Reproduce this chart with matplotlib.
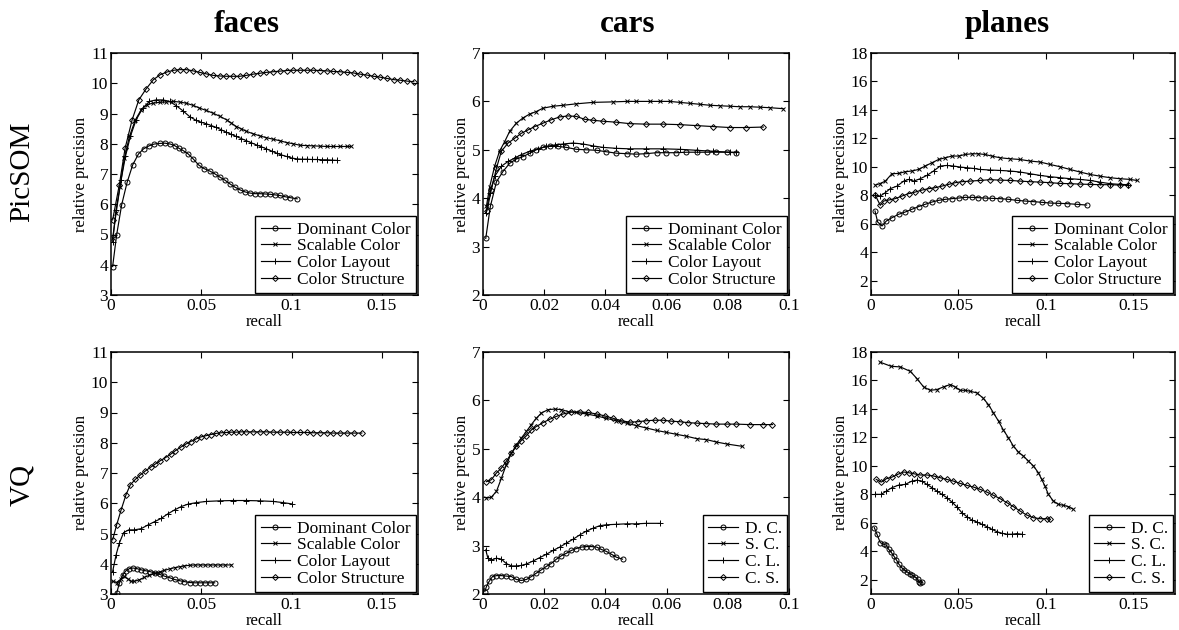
import matplotlib.pyplot as plt
from matplotlib.ticker import FuncFormatter

# ---- labels ----
col_titles = ["faces", "cars", "planes"]
row_titles = ["PicSOM", "VQ"]
long_labels = ["Dominant Color", "Scalable Color", "Color Layout", "Color Structure"]
short_labels = ["D. C.", "S. C.", "C. L.", "C. S."]

# ---- faces / PicSOM ----
fp_dc_x = [0.0009, 0.0031, 0.0059, 0.0089, 0.012, 0.0152, 0.018, 0.021, 0.0239, 0.0269, 0.0298, 0.0328,
           0.0352, 0.0376, 0.0398, 0.0426, 0.0455, 0.0485, 0.0515, 0.0546, 0.0574, 0.0602, 0.063, 0.0657,
           0.0685, 0.0713, 0.0741, 0.0769, 0.0797, 0.0824, 0.0852, 0.088, 0.0908, 0.0935, 0.0963, 0.0991, 0.1031]
fp_dc_y = [3.94, 4.98, 5.98, 6.72, 7.3, 7.66, 7.83, 7.93, 7.99, 8.01, 8.02, 7.99, 7.94, 7.85, 7.78, 7.67,
           7.5, 7.3, 7.18, 7.1, 7.01, 6.9, 6.8, 6.68, 6.57, 6.48, 6.41, 6.37, 6.35, 6.35, 6.34, 6.33, 6.31,
           6.29, 6.25, 6.22, 6.18]
fp_sc_x = [0.0009, 0.0028, 0.005, 0.0074, 0.0102, 0.0135, 0.0167, 0.0198, 0.0231, 0.0269, 0.0306, 0.0343,
           0.038, 0.0417, 0.0454, 0.049, 0.0528, 0.0565, 0.0602, 0.064, 0.0667, 0.0694, 0.0722, 0.075, 0.0787,
           0.0824, 0.0861, 0.0898, 0.0935, 0.0972, 0.1009, 0.1046, 0.1083, 0.112, 0.1157, 0.1194, 0.1231,
           0.1269, 0.1306, 0.133]
fp_sc_y = [4.87, 5.7, 6.58, 7.52, 8.24, 8.79, 9.12, 9.29, 9.34, 9.37, 9.38, 9.4, 9.38, 9.34, 9.27, 9.18,
           9.1, 9.01, 8.91, 8.79, 8.68, 8.57, 8.49, 8.41, 8.33, 8.26, 8.2, 8.15, 8.1, 8.04, 8.0, 7.95, 7.94,
           7.93, 7.92, 7.91, 7.91, 7.91, 7.91, 7.91]
fp_cl_x = [0.0009, 0.0028, 0.0056, 0.008, 0.0107, 0.0139, 0.0176, 0.0213, 0.025, 0.0287, 0.0324, 0.0361,
           0.0398, 0.0435, 0.0472, 0.05, 0.0528, 0.0556, 0.0583, 0.0611, 0.0639, 0.0667, 0.0694, 0.0722,
           0.075, 0.0778, 0.0806, 0.0833, 0.0861, 0.0889, 0.0917, 0.0944, 0.0972, 0.1, 0.1028, 0.1056,
           0.1083, 0.1111, 0.1139, 0.1167, 0.1194, 0.1222, 0.125]
fp_cl_y = [4.75, 5.81, 6.81, 7.58, 8.24, 8.79, 9.18, 9.4, 9.45, 9.45, 9.4, 9.26, 9.09, 8.9, 8.77, 8.71,
           8.66, 8.6, 8.54, 8.46, 8.38, 8.31, 8.24, 8.17, 8.1, 8.03, 7.96, 7.9, 7.83, 7.76, 7.69, 7.63, 7.58,
           7.53, 7.5, 7.49, 7.49, 7.48, 7.48, 7.47, 7.47, 7.46, 7.45]
fp_cs_x = [0.0009, 0.0046, 0.0078, 0.0117, 0.0154, 0.0194, 0.0235, 0.0272, 0.0309, 0.0348, 0.0383, 0.0417,
           0.0454, 0.0491, 0.0528, 0.0565, 0.0602, 0.0639, 0.0676, 0.0713, 0.075, 0.0787, 0.0824, 0.0861,
           0.0898, 0.0935, 0.0972, 0.1009, 0.1046, 0.1083, 0.112, 0.1157, 0.1194, 0.1231, 0.1269, 0.1306,
           0.1343, 0.138, 0.1417, 0.1454, 0.1491, 0.1528, 0.1565, 0.1602, 0.164, 0.1677]
fp_cs_y = [5.48, 6.64, 7.85, 8.79, 9.45, 9.81, 10.12, 10.28, 10.37, 10.43, 10.45, 10.45, 10.41, 10.36,
           10.31, 10.26, 10.24, 10.23, 10.23, 10.23, 10.26, 10.3, 10.33, 10.36, 10.38, 10.4, 10.42, 10.43,
           10.43, 10.43, 10.43, 10.42, 10.41, 10.39, 10.38, 10.36, 10.34, 10.3, 10.27, 10.23, 10.2, 10.16,
           10.12, 10.1, 10.07, 10.05]

# ---- cars / PicSOM ----
cp_dc_x = [0.0009, 0.0024, 0.0044, 0.0065, 0.0087, 0.0109, 0.0131, 0.0153, 0.0174, 0.0196, 0.0218, 0.0245,
           0.0272, 0.0305, 0.0338, 0.0371, 0.0403, 0.0436, 0.0469, 0.0501, 0.0534, 0.0567, 0.0599, 0.0632,
           0.0665, 0.0698, 0.0731, 0.0763, 0.0796, 0.0828]
cp_dc_y = [3.17, 3.83, 4.34, 4.55, 4.72, 4.81, 4.86, 4.93, 5.0, 5.05, 5.07, 5.07, 5.05, 5.01, 5.0, 4.99,
           4.96, 4.93, 4.92, 4.91, 4.92, 4.94, 4.94, 4.94, 4.95, 4.95, 4.95, 4.95, 4.95, 4.94]
cp_sc_x = [0.0011, 0.0022, 0.0038, 0.0054, 0.0071, 0.0087, 0.0109, 0.0131, 0.0153, 0.0174, 0.0196, 0.0229,
           0.0262, 0.0305, 0.036, 0.0425, 0.0469, 0.0501, 0.0545, 0.0578, 0.061, 0.0643, 0.0676, 0.0709,
           0.0741, 0.0774, 0.0807, 0.0839, 0.0872, 0.0905, 0.0937, 0.0981]
cp_sc_y = [3.83, 4.24, 4.66, 4.97, 5.17, 5.38, 5.55, 5.66, 5.74, 5.79, 5.86, 5.9, 5.92, 5.95, 5.98, 5.99,
           6.0, 6.0, 6.0, 6.0, 6.0, 5.98, 5.96, 5.94, 5.92, 5.91, 5.9, 5.89, 5.89, 5.88, 5.87, 5.85]
cp_cl_x = [0.0009, 0.0022, 0.0038, 0.006, 0.0082, 0.0104, 0.0125, 0.0153, 0.018, 0.0207, 0.0234, 0.0262,
           0.0294, 0.0327, 0.036, 0.0392, 0.0436, 0.048, 0.0534, 0.0589, 0.0643, 0.0698, 0.0752, 0.0807, 0.0828]
cp_cl_y = [3.69, 4.1, 4.45, 4.66, 4.76, 4.83, 4.9, 4.97, 5.02, 5.07, 5.1, 5.12, 5.14, 5.12, 5.08, 5.05,
           5.03, 5.02, 5.02, 5.02, 5.01, 4.99, 4.97, 4.95, 4.95]
cp_cs_x = [0.0013, 0.0027, 0.0044, 0.006, 0.0082, 0.0104, 0.0125, 0.0147, 0.0169, 0.0196, 0.0223, 0.0251,
           0.0278, 0.0305, 0.0332, 0.036, 0.0392, 0.0436, 0.048, 0.0534, 0.0589, 0.0643, 0.0698, 0.0752,
           0.0807, 0.0861, 0.0916]
cp_cs_y = [3.74, 4.17, 4.62, 4.97, 5.14, 5.24, 5.34, 5.41, 5.48, 5.55, 5.62, 5.68, 5.7, 5.69, 5.63, 5.61,
           5.59, 5.57, 5.54, 5.53, 5.53, 5.52, 5.5, 5.48, 5.46, 5.46, 5.47]

# ---- planes / PicSOM ----
pp_dc_x = [0.0023, 0.0038, 0.0063, 0.0088, 0.012, 0.0158, 0.0196, 0.0234, 0.0272, 0.031, 0.0349, 0.0387,
           0.0425, 0.0463, 0.0501, 0.0539, 0.0577, 0.0615, 0.0653, 0.0691, 0.0739, 0.0787, 0.0834, 0.0882,
           0.093, 0.0977, 0.1025, 0.1072, 0.112, 0.1177, 0.1234]
pp_dc_y = [6.9, 6.13, 5.85, 6.2, 6.43, 6.67, 6.83, 7.02, 7.21, 7.37, 7.53, 7.65, 7.72, 7.77, 7.81, 7.86,
           7.86, 7.84, 7.81, 7.79, 7.77, 7.72, 7.65, 7.6, 7.56, 7.51, 7.46, 7.44, 7.42, 7.37, 7.32]
pp_sc_x = [0.0025, 0.005, 0.0082, 0.012, 0.0158, 0.0196, 0.0234, 0.0272, 0.031, 0.0349, 0.0387, 0.0425,
           0.0463, 0.0501, 0.0539, 0.0577, 0.0615, 0.0653, 0.0691, 0.0739, 0.0796, 0.0853, 0.091, 0.0968,
           0.1025, 0.1082, 0.1139, 0.1196, 0.1253, 0.131, 0.1368, 0.1425, 0.1482, 0.152]
pp_sc_y = [8.72, 8.82, 9.0, 9.52, 9.54, 9.66, 9.71, 9.82, 10.06, 10.29, 10.52, 10.64, 10.76, 10.76, 10.87,
           10.92, 10.92, 10.87, 10.76, 10.64, 10.57, 10.52, 10.41, 10.34, 10.17, 10.01, 9.82, 9.64, 9.47,
           9.35, 9.24, 9.17, 9.12, 9.05]
pp_cl_x = [0.0025, 0.0053, 0.0082, 0.011, 0.0149, 0.0187, 0.0215, 0.0244, 0.0282, 0.032, 0.0358, 0.0396,
           0.0434, 0.0472, 0.051, 0.0549, 0.0587, 0.0625, 0.0682, 0.0739, 0.0796, 0.0853, 0.091, 0.0968,
           0.1025, 0.1082, 0.1139, 0.1196, 0.1253, 0.131, 0.1368, 0.1425, 0.1472]
pp_cl_y = [8.0, 7.95, 8.19, 8.47, 8.65, 9.0, 9.12, 9.0, 9.17, 9.4, 9.71, 10.06, 10.1, 10.06, 9.99, 9.94,
           9.89, 9.82, 9.78, 9.75, 9.71, 9.64, 9.52, 9.4, 9.31, 9.24, 9.17, 9.12, 9.05, 8.93, 8.82, 8.77, 8.75]
pp_cs_x = [0.0025, 0.0053, 0.0072, 0.0101, 0.0139, 0.0177, 0.0215, 0.0253, 0.0291, 0.033, 0.0368, 0.0406,
           0.0444, 0.0482, 0.052, 0.0568, 0.0625, 0.0682, 0.0739, 0.0796, 0.0853, 0.091, 0.0968, 0.1025,
           0.1082, 0.1139, 0.1196, 0.1253, 0.131, 0.1368, 0.1425, 0.1472]
pp_cs_y = [8.0, 7.3, 7.6, 7.67, 7.77, 7.95, 8.12, 8.23, 8.37, 8.47, 8.54, 8.65, 8.77, 8.89, 8.96, 9.0,
           9.05, 9.1, 9.07, 9.05, 9.0, 8.96, 8.93, 8.89, 8.84, 8.82, 8.79, 8.77, 8.75, 8.75, 8.72, 8.72]

# ---- faces / VQ ----
fv_dc_x = [0.0031, 0.0046, 0.0065, 0.0083, 0.0102, 0.012, 0.0143, 0.0167, 0.0191, 0.0217, 0.0243, 0.0269,
           0.0296, 0.0324, 0.0352, 0.038, 0.0407, 0.0435, 0.0463, 0.0491, 0.0519, 0.0546, 0.0574]
fv_dc_y = [3.02, 3.35, 3.63, 3.77, 3.84, 3.86, 3.84, 3.8, 3.77, 3.74, 3.69, 3.65, 3.59, 3.54, 3.48, 3.44,
           3.41, 3.38, 3.37, 3.37, 3.37, 3.37, 3.37]
fv_sc_x = [0.0009, 0.0031, 0.0056, 0.0074, 0.0093, 0.0111, 0.013, 0.0157, 0.0185, 0.0213, 0.0241, 0.0269,
           0.0296, 0.0324, 0.0352, 0.038, 0.0407, 0.0435, 0.0463, 0.0491, 0.0519, 0.0546, 0.0574, 0.0602,
           0.063, 0.0667]
fv_sc_y = [3.42, 3.38, 3.5, 3.58, 3.5, 3.42, 3.42, 3.47, 3.55, 3.62, 3.68, 3.73, 3.78, 3.83, 3.87, 3.9,
           3.93, 3.95, 3.96, 3.96, 3.96, 3.96, 3.96, 3.96, 3.96, 3.96]
fv_cl_x = [0.0009, 0.0028, 0.0046, 0.007, 0.0098, 0.013, 0.0167, 0.0204, 0.0241, 0.0278, 0.0315, 0.0352,
           0.0389, 0.0426, 0.0472, 0.0528, 0.0602, 0.0676, 0.075, 0.0824, 0.0898, 0.0954, 0.1]
fv_cl_y = [3.74, 4.29, 4.68, 5.03, 5.12, 5.12, 5.16, 5.28, 5.39, 5.5, 5.65, 5.78, 5.89, 5.97, 6.02, 6.06,
           6.08, 6.09, 6.09, 6.08, 6.06, 6.02, 5.98]
fv_cs_x = [0.0009, 0.0031, 0.0056, 0.0083, 0.0107, 0.0135, 0.0163, 0.0191, 0.0219, 0.0246, 0.0274, 0.0302,
           0.033, 0.0357, 0.0385, 0.0413, 0.0441, 0.0469, 0.0496, 0.0524, 0.0552, 0.0583, 0.0611, 0.0639,
           0.0667, 0.0694, 0.0722, 0.075, 0.0787, 0.0824, 0.0861, 0.0898, 0.0935, 0.0972, 0.1009, 0.1046,
           0.1083, 0.112, 0.1157, 0.1194, 0.1231, 0.1269, 0.1306, 0.1343, 0.1389]
fv_cs_y = [4.79, 5.28, 5.78, 6.28, 6.61, 6.79, 6.94, 7.07, 7.19, 7.3, 7.41, 7.51, 7.62, 7.74, 7.85, 7.95,
           8.04, 8.12, 8.19, 8.23, 8.27, 8.31, 8.33, 8.34, 8.35, 8.35, 8.36, 8.36, 8.36, 8.36, 8.36, 8.35,
           8.35, 8.35, 8.34, 8.34, 8.34, 8.33, 8.33, 8.33, 8.32, 8.32, 8.32, 8.32, 8.32]

# ---- cars / VQ ----
cv_dc_x = [0.0006, 0.0011, 0.002, 0.0031, 0.0044, 0.006, 0.0076, 0.0093, 0.0109, 0.0125, 0.0142, 0.0158,
           0.0174, 0.0191, 0.0207, 0.0223, 0.024, 0.0256, 0.0272, 0.0289, 0.0305, 0.0322, 0.0338, 0.0354,
           0.0371, 0.0387, 0.0403, 0.042, 0.0436, 0.0456]
cv_dc_y = [2.05, 2.15, 2.26, 2.36, 2.38, 2.38, 2.37, 2.36, 2.3, 2.28, 2.3, 2.36, 2.43, 2.5, 2.57, 2.63,
           2.72, 2.79, 2.84, 2.9, 2.94, 2.97, 2.98, 2.98, 2.97, 2.92, 2.88, 2.82, 2.76, 2.72]
cv_sc_x = [0.0011, 0.0027, 0.0044, 0.006, 0.0076, 0.0093, 0.0109, 0.0125, 0.0142, 0.0158, 0.0174, 0.0191,
           0.0213, 0.0234, 0.0256, 0.0278, 0.0305, 0.0338, 0.0371, 0.0403, 0.0436, 0.0469, 0.0501, 0.0534,
           0.0567, 0.0599, 0.0632, 0.0665, 0.0698, 0.073, 0.0763, 0.0796, 0.0848]
cv_sc_y = [3.98, 4.0, 4.12, 4.39, 4.67, 4.91, 5.08, 5.22, 5.36, 5.5, 5.63, 5.74, 5.81, 5.82, 5.81, 5.77,
           5.75, 5.72, 5.68, 5.63, 5.58, 5.53, 5.48, 5.43, 5.38, 5.34, 5.3, 5.26, 5.21, 5.19, 5.14, 5.1, 5.05]
cv_cl_x = [0.0009, 0.0016, 0.0027, 0.0044, 0.006, 0.0076, 0.0093, 0.0109, 0.0125, 0.0142, 0.0163, 0.0185,
           0.0207, 0.0229, 0.0251, 0.0272, 0.0294, 0.0316, 0.0338, 0.036, 0.0381, 0.0403, 0.0436, 0.0469,
           0.0501, 0.0534, 0.0578]
cv_cl_y = [2.91, 2.74, 2.7, 2.74, 2.72, 2.63, 2.58, 2.58, 2.59, 2.62, 2.68, 2.75, 2.82, 2.9, 2.97, 3.05,
           3.13, 3.22, 3.3, 3.36, 3.41, 3.43, 3.44, 3.45, 3.45, 3.46, 3.46]
cv_cs_x = [0.0011, 0.0027, 0.0044, 0.006, 0.0076, 0.0093, 0.0109, 0.0125, 0.0142, 0.0158, 0.0174, 0.0196,
           0.0218, 0.024, 0.0262, 0.0289, 0.0316, 0.0343, 0.0371, 0.0398, 0.0425, 0.0452, 0.048, 0.0507,
           0.0534, 0.0561, 0.0589, 0.0616, 0.0643, 0.067, 0.0698, 0.073, 0.0763, 0.0796, 0.0828, 0.0872,
           0.0916, 0.0946]
cv_cs_y = [4.32, 4.36, 4.5, 4.6, 4.74, 4.91, 5.05, 5.17, 5.27, 5.39, 5.46, 5.54, 5.61, 5.67, 5.72, 5.76,
           5.76, 5.75, 5.72, 5.68, 5.63, 5.58, 5.55, 5.56, 5.58, 5.59, 5.59, 5.57, 5.56, 5.54, 5.53, 5.52,
           5.51, 5.51, 5.51, 5.5, 5.5, 5.5]

# ---- planes / VQ ----
pv_dc_x = [0.0019, 0.0034, 0.0053, 0.0072, 0.0088, 0.0101, 0.0114, 0.013, 0.0145, 0.016, 0.0175, 0.019,
           0.0206, 0.0221, 0.0236, 0.0251, 0.0267, 0.0274, 0.0282, 0.029]
pv_dc_y = [5.66, 5.2, 4.61, 4.5, 4.43, 4.14, 3.96, 3.68, 3.4, 3.09, 2.86, 2.7, 2.56, 2.44, 2.32, 2.21,
           2.04, 1.86, 1.76, 1.81]
pv_sc_x = [0.0053, 0.0114, 0.0168, 0.0225, 0.0263, 0.0301, 0.0339, 0.0377, 0.0415, 0.0453, 0.0482, 0.051,
           0.0539, 0.0568, 0.0606, 0.064, 0.0672, 0.0701, 0.073, 0.0758, 0.0787, 0.0815, 0.0844, 0.0872,
           0.0901, 0.093, 0.0958, 0.0977, 0.0996, 0.1015, 0.1044, 0.1072, 0.1101, 0.113, 0.1158]
pv_sc_y = [17.28, 17.0, 16.95, 16.64, 16.13, 15.55, 15.31, 15.36, 15.55, 15.71, 15.55, 15.31, 15.31, 15.24,
           15.13, 14.78, 14.31, 13.72, 13.14, 12.51, 11.97, 11.39, 10.97, 10.69, 10.34, 9.99, 9.52, 9.05,
           8.58, 8.0, 7.53, 7.3, 7.23, 7.14, 6.95]
pv_cl_x = [0.0025, 0.0059, 0.0088, 0.012, 0.0158, 0.0196, 0.0234, 0.0263, 0.0291, 0.032, 0.0349, 0.0377,
           0.0406, 0.0434, 0.0463, 0.0491, 0.052, 0.0549, 0.0577, 0.0606, 0.0634, 0.0663, 0.0691, 0.072,
           0.0749, 0.0777, 0.0806, 0.0834, 0.0863]
pv_cl_y = [8.0, 8.0, 8.23, 8.47, 8.65, 8.7, 8.93, 9.0, 8.93, 8.7, 8.47, 8.23, 8.0, 7.77, 7.46, 7.13, 6.71,
           6.43, 6.2, 6.06, 5.9, 5.73, 5.55, 5.38, 5.27, 5.2, 5.2, 5.24, 5.2]
pv_cs_x = [0.003, 0.0059, 0.0088, 0.012, 0.0152, 0.0187, 0.0215, 0.0244, 0.0282, 0.032, 0.0358, 0.0396,
           0.0434, 0.0472, 0.051, 0.0549, 0.0587, 0.0625, 0.0663, 0.0701, 0.0739, 0.0777, 0.0815, 0.0853,
           0.0891, 0.093, 0.0968, 0.1006, 0.1025]
pv_cs_y = [9.05, 8.86, 9.1, 9.21, 9.4, 9.57, 9.52, 9.45, 9.36, 9.36, 9.29, 9.17, 9.05, 8.93, 8.77, 8.63,
           8.51, 8.35, 8.16, 7.93, 7.7, 7.42, 7.14, 6.83, 6.55, 6.36, 6.29, 6.29, 6.25]

# ---- figure ----
plt.rcParams['font.family'] = ['Liberation Serif', 'DejaVu Serif']
plt.rcParams['font.size'] = 12

W, H = 1179, 630
fig = plt.figure(figsize=(W / 100, H / 100), dpi=100)

col_left = [111, 483, 871]
col_right = [418, 789, 1175]
row_top = [53, 352]
row_bottom = [295, 594]

xlims = [0.17, 0.1, 0.174]
xticks = [[0, 0.05, 0.1, 0.15], [0, 0.02, 0.04, 0.06, 0.08, 0.1], [0, 0.05, 0.1, 0.15]]
ylims = [(3, 11), (2, 7), (1, 18)]
yticks = [range(3, 12), range(2, 8), range(2, 19, 2)]

markers = ['o', 'x', '+', 'D']
msizes = [3.6, 3.2, 4.5, 3.0]

panels = [
    [(fp_dc_x, fp_dc_y), (fp_sc_x, fp_sc_y), (fp_cl_x, fp_cl_y), (fp_cs_x, fp_cs_y)],
    [(cp_dc_x, cp_dc_y), (cp_sc_x, cp_sc_y), (cp_cl_x, cp_cl_y), (cp_cs_x, cp_cs_y)],
    [(pp_dc_x, pp_dc_y), (pp_sc_x, pp_sc_y), (pp_cl_x, pp_cl_y), (pp_cs_x, pp_cs_y)],
    [(fv_dc_x, fv_dc_y), (fv_sc_x, fv_sc_y), (fv_cl_x, fv_cl_y), (fv_cs_x, fv_cs_y)],
    [(cv_dc_x, cv_dc_y), (cv_sc_x, cv_sc_y), (cv_cl_x, cv_cl_y), (cv_cs_x, cv_cs_y)],
    [(pv_dc_x, pv_dc_y), (pv_sc_x, pv_sc_y), (pv_cl_x, pv_cl_y), (pv_cs_x, pv_cs_y)],
]

fmt = FuncFormatter(lambda v, p: '%g' % v)

for r in range(2):
    for c in range(3):
        x0 = col_left[c] / W
        w = (col_right[c] - col_left[c]) / W
        y0 = 1 - row_bottom[r] / H
        h = (row_bottom[r] - row_top[r]) / H
        ax = fig.add_axes([x0, y0, w, h])
        series = panels[r * 3 + c]
        if r == 1 and c > 0:
            labels = short_labels
        else:
            labels = long_labels
        for k in range(4):
            sx, sy = series[k]
            ax.plot(sx, sy, color='k', lw=0.85, marker=markers[k], ms=msizes[k],
                    mfc='none', mec='k', mew=0.7, label=labels[k])
        ax.set_xlim(0, xlims[c])
        ax.set_ylim(*ylims[c])
        ax.set_xticks(xticks[c])
        ax.set_yticks(list(yticks[c]))
        ax.xaxis.set_major_formatter(fmt)
        ax.tick_params(direction='in', top=True, right=True, length=4, width=0.8,
                       labelsize=12.5, pad=2)
        for s in ax.spines.values():
            s.set_linewidth(1.1)
        ax.set_xlabel('recall', fontsize=12, labelpad=0)
        ax.set_ylabel('relative precision', fontsize=12, labelpad=1)
        leg = ax.legend(loc='lower right', fontsize=12.5, numpoints=1, handlelength=1.7,
                        handletextpad=0.4, labelspacing=0.03, borderpad=0.3,
                        borderaxespad=0.12, fancybox=False, framealpha=1)
        leg.get_frame().set_edgecolor('k')
        leg.get_frame().set_linewidth(1.0)

title_x = [247, 628, 1007]
for c in range(3):
    fig.text(title_x[c] / W, 1 - 32 / H, col_titles[c], ha='center', va='baseline',
             fontsize=22.5, fontweight='bold')

row_y = [172, 485]
for r in range(2):
    fig.text(22 / W, 1 - row_y[r] / H, row_titles[r], ha='center', va='center',
             rotation=90, fontsize=21)

fig.savefig('out.png', dpi=100)
